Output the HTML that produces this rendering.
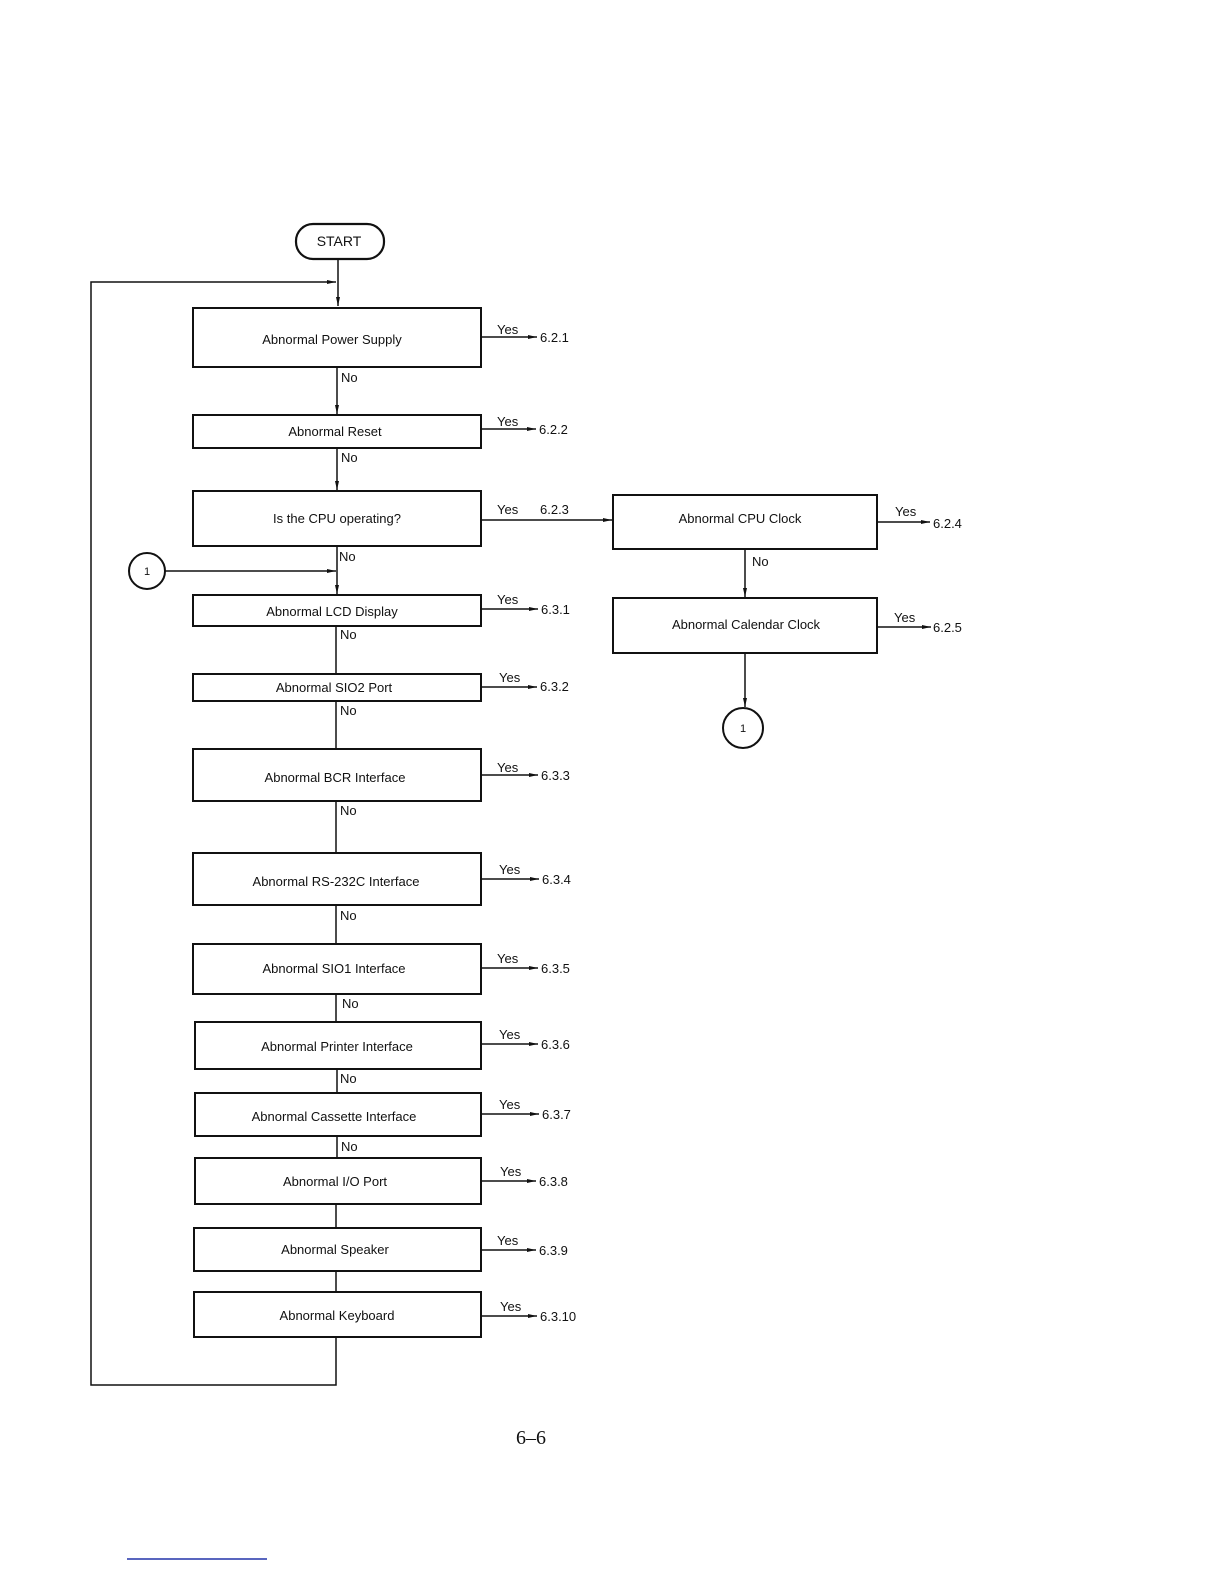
<!DOCTYPE html>
<html><head><meta charset="utf-8"><style>
html,body{margin:0;padding:0;background:#fff}
svg{display:block}
text{font-family:"Liberation Sans",sans-serif;fill:#111}
</style></head><body>
<svg width="1224" height="1584" viewBox="0 0 1224 1584" xmlns="http://www.w3.org/2000/svg">
<defs><marker id="a" markerWidth="10" markerHeight="6" refX="9" refY="3" orient="auto" markerUnits="userSpaceOnUse"><path d="M0,1 L9,3 L0,5 z" fill="#111"/></marker></defs>
<g stroke="#111" fill="none" stroke-width="1.5">
<rect x="296" y="224" width="88" height="35" rx="17" stroke-width="2.2"/>
<line x1="338" y1="259" x2="338" y2="306" marker-end="url(#a)"/>
<polyline points="336,1337 336,1385 91,1385 91,282 336,282" marker-end="url(#a)"/>
<g stroke-width="2">
<rect x="193" y="308" width="288" height="59"/>
<rect x="193" y="415" width="288" height="33"/>
<rect x="193" y="491" width="288" height="55"/>
<rect x="193" y="595" width="288" height="31"/>
<rect x="193" y="674" width="288" height="27"/>
<rect x="193" y="749" width="288" height="52"/>
<rect x="193" y="853" width="288" height="52"/>
<rect x="193" y="944" width="288" height="50"/>
<rect x="195" y="1022" width="286" height="47"/>
<rect x="195" y="1093" width="286" height="43"/>
<rect x="195" y="1158" width="286" height="46"/>
<rect x="194" y="1228" width="287" height="43"/>
<rect x="194" y="1292" width="287" height="45"/>
<rect x="613" y="495" width="264" height="54"/>
<rect x="613" y="598" width="264" height="55"/>
</g>
<line x1="337" y1="367" x2="337" y2="414" marker-end="url(#a)"/>
<line x1="337" y1="448" x2="337" y2="490" marker-end="url(#a)"/>
<line x1="337" y1="546" x2="337" y2="594" marker-end="url(#a)"/>
<line x1="336" y1="626" x2="336" y2="673"/>
<line x1="336" y1="701" x2="336" y2="748"/>
<line x1="336" y1="801" x2="336" y2="852"/>
<line x1="336" y1="905" x2="336" y2="943"/>
<line x1="336" y1="994" x2="336" y2="1021"/>
<line x1="337" y1="1069" x2="337" y2="1092"/>
<line x1="337" y1="1136" x2="337" y2="1157"/>
<line x1="336" y1="1204" x2="336" y2="1228"/>
<line x1="336" y1="1271" x2="336" y2="1292"/>
<circle cx="147" cy="571" r="18" stroke-width="2"/>
<line x1="165" y1="571" x2="336" y2="571" marker-end="url(#a)"/>
<line x1="481" y1="520" x2="612" y2="520" marker-end="url(#a)"/>
<line x1="745" y1="549" x2="745" y2="597" marker-end="url(#a)"/>
<line x1="745" y1="653" x2="745" y2="707" marker-end="url(#a)"/>
<circle cx="743" cy="728" r="20" stroke-width="2"/>
<line x1="481" y1="337" x2="537" y2="337" marker-end="url(#a)"/>
<line x1="481" y1="429" x2="536" y2="429" marker-end="url(#a)"/>
<line x1="481" y1="609" x2="538" y2="609" marker-end="url(#a)"/>
<line x1="481" y1="687" x2="537" y2="687" marker-end="url(#a)"/>
<line x1="481" y1="775" x2="538" y2="775" marker-end="url(#a)"/>
<line x1="481" y1="879" x2="539" y2="879" marker-end="url(#a)"/>
<line x1="481" y1="968" x2="538" y2="968" marker-end="url(#a)"/>
<line x1="481" y1="1044" x2="538" y2="1044" marker-end="url(#a)"/>
<line x1="481" y1="1114" x2="539" y2="1114" marker-end="url(#a)"/>
<line x1="481" y1="1181" x2="536" y2="1181" marker-end="url(#a)"/>
<line x1="481" y1="1250" x2="536" y2="1250" marker-end="url(#a)"/>
<line x1="481" y1="1316" x2="537" y2="1316" marker-end="url(#a)"/>
<line x1="877" y1="522" x2="930" y2="522" marker-end="url(#a)"/>
<line x1="877" y1="627" x2="931" y2="627" marker-end="url(#a)"/>
</g>
<line x1="127" y1="1559" x2="267" y2="1559" stroke="#2233aa" stroke-width="1.5"/>
<g font-size="13" text-anchor="middle">
<text x="339" y="246" font-size="14">START</text>
<text x="332" y="344">Abnormal Power Supply</text>
<text x="335" y="436">Abnormal Reset</text>
<text x="337" y="523">Is the CPU operating?</text>
<text x="332" y="616">Abnormal LCD Display</text>
<text x="334" y="692">Abnormal SIO2 Port</text>
<text x="335" y="782">Abnormal BCR Interface</text>
<text x="336" y="886">Abnormal RS-232C Interface</text>
<text x="334" y="973">Abnormal SIO1 Interface</text>
<text x="337" y="1051">Abnormal Printer Interface</text>
<text x="334" y="1121">Abnormal Cassette Interface</text>
<text x="335" y="1186">Abnormal I/O Port</text>
<text x="335" y="1254">Abnormal Speaker</text>
<text x="337" y="1320">Abnormal Keyboard</text>
<text x="740" y="523">Abnormal CPU Clock</text>
<text x="746" y="629">Abnormal Calendar Clock</text>
<text x="147" y="575" font-size="11">1</text>
<text x="743" y="732" font-size="11">1</text>
</g>
<g font-size="13">
<text x="341" y="382">No</text><text x="341" y="462">No</text><text x="339" y="561">No</text>
<text x="340" y="639">No</text><text x="340" y="715">No</text><text x="340" y="815">No</text>
<text x="340" y="920">No</text><text x="342" y="1008">No</text><text x="340" y="1083">No</text>
<text x="341" y="1151">No</text><text x="752" y="566">No</text>
<text x="497" y="334">Yes</text><text x="540" y="342">6.2.1</text>
<text x="497" y="426">Yes</text><text x="539" y="434">6.2.2</text>
<text x="497" y="514">Yes</text><text x="540" y="514">6.2.3</text>
<text x="497" y="604">Yes</text><text x="541" y="614">6.3.1</text>
<text x="499" y="682">Yes</text><text x="540" y="691">6.3.2</text>
<text x="497" y="772">Yes</text><text x="541" y="780">6.3.3</text>
<text x="499" y="874">Yes</text><text x="542" y="884">6.3.4</text>
<text x="497" y="963">Yes</text><text x="541" y="973">6.3.5</text>
<text x="499" y="1039">Yes</text><text x="541" y="1049">6.3.6</text>
<text x="499" y="1109">Yes</text><text x="542" y="1119">6.3.7</text>
<text x="500" y="1176">Yes</text><text x="539" y="1186">6.3.8</text>
<text x="497" y="1245">Yes</text><text x="539" y="1255">6.3.9</text>
<text x="500" y="1311">Yes</text><text x="540" y="1321">6.3.10</text>
<text x="895" y="516">Yes</text><text x="933" y="528">6.2.4</text>
<text x="894" y="622">Yes</text><text x="933" y="632">6.2.5</text>
</g>
<text x="531" y="1444" font-size="20" text-anchor="middle" style="font-family:'Liberation Serif',serif">6–6</text>
</svg>
</body></html>
